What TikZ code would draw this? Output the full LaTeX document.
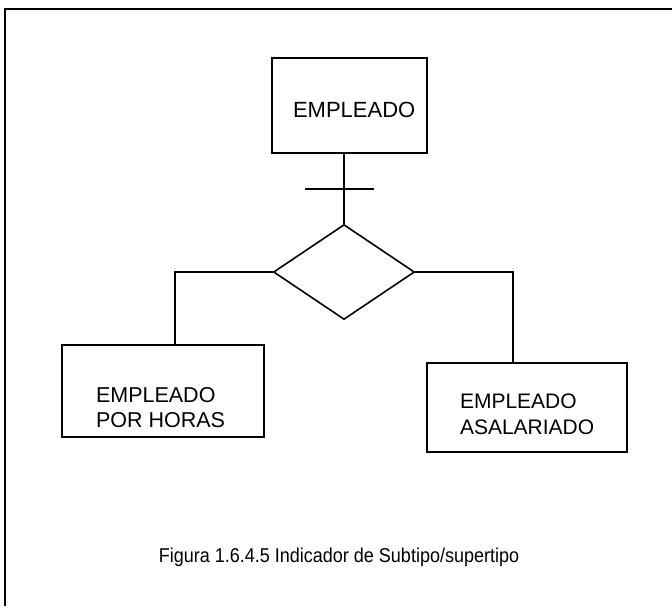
\documentclass[tikz,border=0pt]{standalone}
\usepackage{fontspec}
\setmainfont{Liberation Sans}
\newfontfamily\capfont{Liberation Sans}[FakeStretch=0.9]
\usetikzlibrary{positioning,shapes.geometric,calc}

\begin{document}
\begin{tikzpicture}[x=1pt, y=-1pt, line width=1.6pt,
    every node/.style={font=\fontsize{21.5}{25}\selectfont, align=left},
    txt/.style={anchor=west, inner sep=0pt}]
  \useasboundingbox (0,0) rectangle (672,606);

  % marco de la figura
  \draw (5,606) -- (5,9) -- (672,9);

  \node[draw, minimum width=155pt, minimum height=95pt] (emp)
        at (349.5,105.5) {};
  \node[txt, font=\fontsize{22}{25}\selectfont] (emptxt)
        at ([shift={(21,4)}]emp.west) {EMPLEADO};

  \node[draw, diamond, inner sep=0pt,
        minimum width=141pt, minimum height=95pt] (rel) at (344,272) {};

  \node[draw, minimum width=202pt, minimum height=92pt] (porh)
        at (163,391) {};
  \node[txt] (porhtxt) at ([shift={(34,16.5)}]porh.west) {EMPLEADO\\POR HORAS};

  \node[draw, minimum width=200pt, minimum height=89pt] (asal)
        at (527,407.5) {};
  \node[txt, font=\fontsize{21}{26}\selectfont] (asaltxt)
        at ([shift={(33,6.5)}]asal.west) {EMPLEADO\\ASALARIADO};

  \draw (rel.north) -- (rel.north |- emp.south);
  \draw ($(rel.north)!0.5!(rel.north |- emp.south)$) ++(-39,0) -- ++(69,0);
  \draw (rel.west) -| ([xshift=12pt]porh.north);
  \draw (rel.east) -| ([xshift=-14pt]asal.north);

  \node[font=\capfont\fontsize{20}{24}\selectfont] (cap) at (339,557)
      {Figura 1.6.4.5 Indicador de Subtipo/supertipo};
\end{tikzpicture}
\end{document}
